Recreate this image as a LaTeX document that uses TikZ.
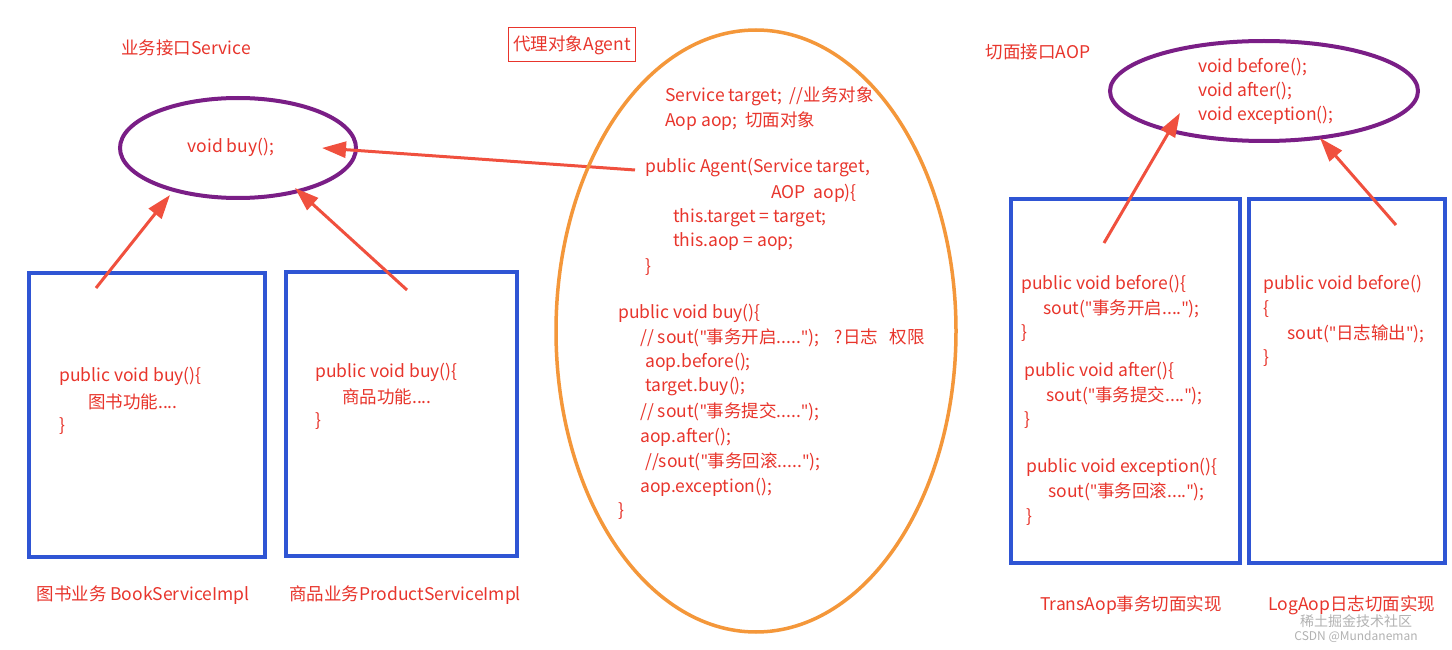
\documentclass[tikz,border=0pt]{standalone}
\usepackage{fontspec}
\setmainfont{Noto Sans CJK SC}
\newfontfamily\latinf{Noto Sans}
\usetikzlibrary{arrows.meta}
\newcommand\qq{{\latinf\char34}}
\definecolor{tred}{HTML}{E8352C}
\definecolor{ared}{HTML}{F0503E}
\definecolor{purp}{HTML}{7A1E86}
\definecolor{bblue}{HTML}{2F55D4}
\definecolor{orng}{HTML}{F4973A}
\tikzset{
 t/.style={anchor=west,text=tred,inner sep=0pt,font=\fontsize{17.5}{20}\selectfont},
 lbl/.style={text=tred,inner sep=0pt,font=\fontsize{17.5}{20}\selectfont},
 box/.style={draw=bblue,line width=4pt},
 ell/.style={draw=purp,line width=4pt},
 arr/.style={draw=ared,line width=3pt,-{Triangle[length=24pt,width=16pt]}},
}
\begin{document}
\begin{tikzpicture}[x=1pt,y=-1pt]
\useasboundingbox[fill=white] (0,0) rectangle (1452,650);
% Service interface
\node[lbl] (stitle) at (186,48) {业务接口Service};
\draw[ell] (238,148) ellipse [x radius=118,y radius=50];
\node[lbl] (sbuy) at (231,147) {void buy();};
\draw[box] (29,273) rectangle (265,557);
\draw[box] (286,272) rectangle (517,556);
\node[t] at (59,376) {public void buy()\{};
\node[t] at (88,402) {图书功能....};
\node[t] at (59,426) {\}};
\node[t] at (315,372) {public void buy()\{};
\node[t] at (342,397) {商品功能....};
\node[t] at (315,421) {\}};
\node[lbl] at (143,595) {图书业务 BookServiceImpl};
\node[lbl] at (405,595) {商品业务ProductServiceImpl};
\coordinate (a1s) at (96,288); \coordinate (a1e) at (170,195);
\coordinate (a2s) at (407,290); \coordinate (a2e) at (295,188);
\coordinate (a3s) at (635,170); \coordinate (a3e) at (322,148);
\draw[arr] (a1s) -- (a1e);
\draw[arr] (a2s) -- (a2e);
\draw[arr] (a3s) -- (a3e);
% Agent
\node[lbl,draw=tred,line width=1pt,inner sep=5pt,minimum height=34pt] (atitle) at (572,45) {代理对象Agent};
\draw[draw=orng,line width=3.5pt] (756,331) ellipse [x radius=200,y radius=301];
\node[t] at (665,96) {Service target;\ \ //业务对象};
\node[t] at (665,121) {Aop aop;\ \ 切面对象};
\node[t] at (645,168) {public Agent(Service target,};
\node[t] at (771,193) {AOP\ \ aop)\{};
\node[t] at (673,218) {this.target = target;};
\node[t] at (673,242) {this.aop = aop;};
\node[t] at (645,267) {\}};
\node[t] at (618,313) {public void buy()\{};
\node[t] at (640,338) {// sout(\qq 事务开启.....\qq);\ \ \ \ ?日志\ \ \ 权限};
\node[t] at (645,362) {aop.before();};
\node[t] at (645,387) {target.buy();};
\node[t] at (640,412) {// sout(\qq 事务提交.....\qq);};
\node[t] at (640,437) {aop.after();};
\node[t] at (645,462) {//sout(\qq 事务回滚.....\qq);};
\node[t] at (640,487) {aop.exception();};
\node[t] at (618,511) {\}};
% AOP interface
\node[lbl] (otitle) at (1038,52) {切面接口AOP};
\draw[ell] (1264,91) ellipse [x radius=154,y radius=50];
\node[t] at (1198,67) {void before();};
\node[t] at (1198,91) {void after();};
\node[t] at (1198,115) {void exception();};
\draw[box] (1011,199) rectangle (1240,563);
\draw[box] (1249,199) rectangle (1445,563);
\node[t] at (1021,284) {public void before()\{};
\node[t] at (1043,309) {sout(\qq 事务开启....\qq);};
\node[t] at (1021,333) {\}};
\node[t] at (1024,371) {public void after()\{};
\node[t] at (1046,396) {sout(\qq 事务提交....\qq);};
\node[t] at (1024,420) {\}};
\node[t] at (1026,467) {public void exception()\{};
\node[t] at (1048,492) {sout(\qq 事务回滚....\qq);};
\node[t] at (1026,517) {\}};
\node[t] at (1263,284) {public void before()};
\node[t] at (1263,309) {\{};
\node[t] at (1287,334) {sout(\qq 日志输出\qq);};
\node[t] at (1263,358) {\}};
\coordinate (a4s) at (1104,243); \coordinate (a4e) at (1180,113);
\coordinate (a5s) at (1396,225); \coordinate (a5e) at (1320,138);
\draw[arr] (a4s) -- (a4e);
\draw[arr] (a5s) -- (a5e);
\node[lbl] at (1131,605) {TransAop事务切面实现};
\node[lbl] at (1352,605) {LogAop日志切面实现};
% watermark
\node[text=gray!60,inner sep=0pt,font=\fontsize{14}{16}\selectfont] at (1356,621) {稀土掘金技术社区};
\node[text=gray!60,inner sep=0pt,font=\fontsize{12}{14}\selectfont] at (1356,637) {CSDN @Mundaneman};
\end{tikzpicture}
\end{document}
